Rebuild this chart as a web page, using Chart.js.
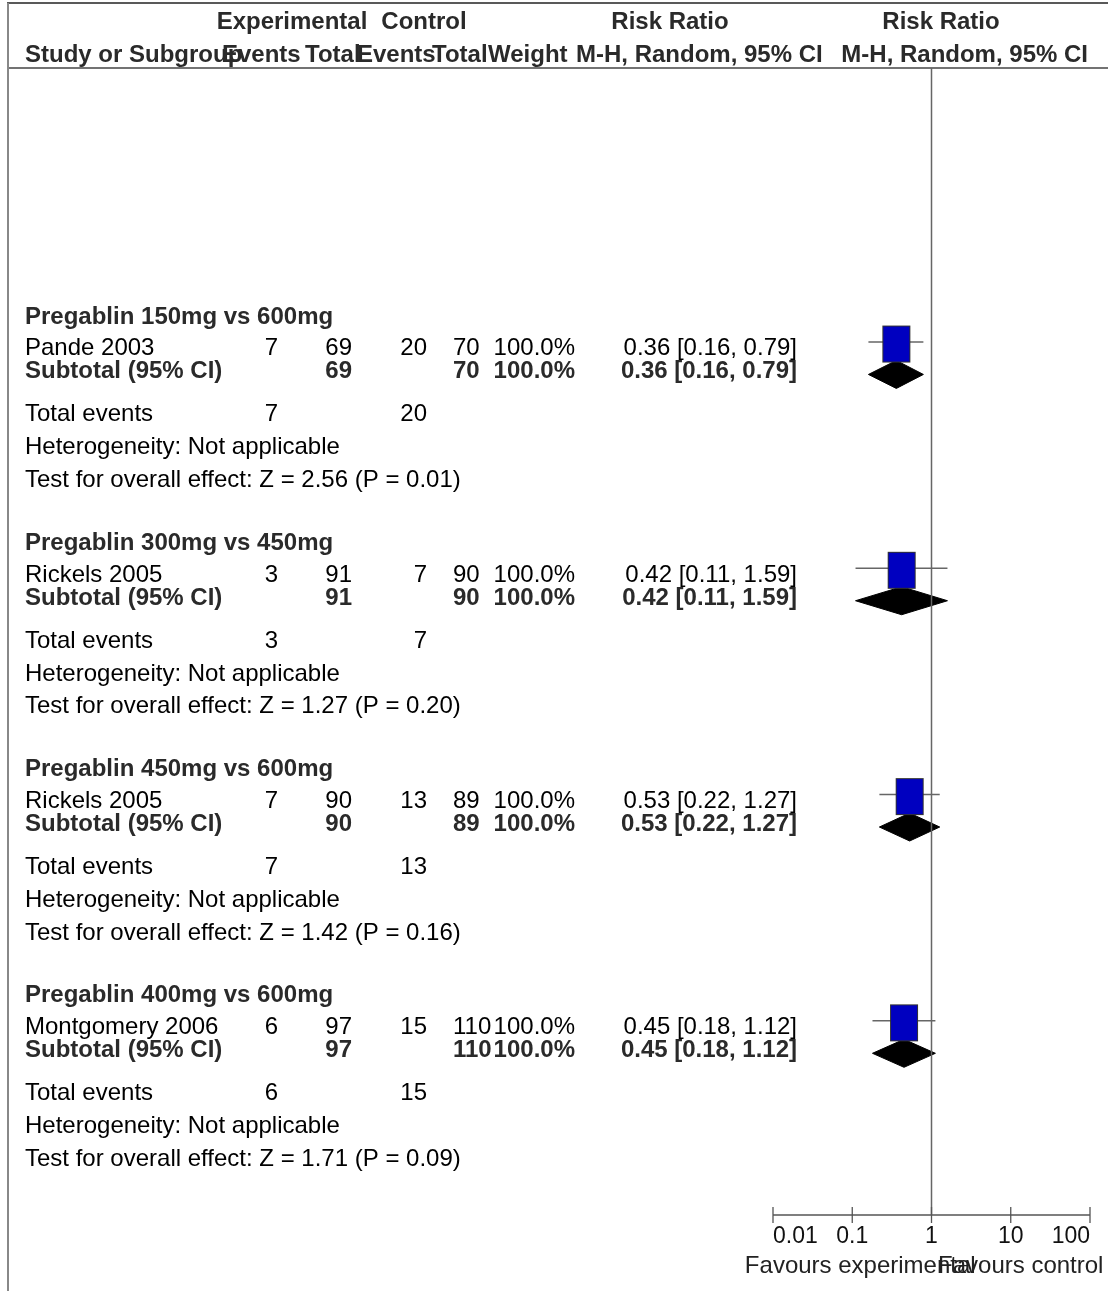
<!DOCTYPE html>
<html><head><meta charset="utf-8">
<script src="https://cdn.jsdelivr.net/npm/chart.js@4.4.0/dist/chart.umd.min.js"></script>
<style>html,body{margin:0;padding:0;background:#fff;}#wrap{width:1108px;height:1291px;position:relative;}canvas{display:block;}</style>
</head><body><div id="wrap"><canvas id="c" width="1108" height="1291"></canvas></div>
<script>
// ---------- data ----------
const subgroups = ["Pregablin 150mg vs 600mg", "Pregablin 300mg vs 450mg", "Pregablin 450mg vs 600mg", "Pregablin 400mg vs 600mg"];
const studies = ["Pande 2003", "Rickels 2005", "Rickels 2005", "Montgomery 2006"];
const expEvents = [7, 3, 7, 6];
const expTotal = [69, 91, 90, 97];
const ctrlEvents = [20, 7, 13, 15];
const ctrlTotal = [70, 90, 89, 110];
const weights = ["100.0%", "100.0%", "100.0%", "100.0%"];
const rr = [0.36, 0.42, 0.53, 0.45];
const rrLow = [0.16, 0.11, 0.22, 0.18];
const rrHigh = [0.79, 1.59, 1.27, 1.12];
const heterogeneity = ["Not applicable", "Not applicable", "Not applicable", "Not applicable"];
const zValues = ["2.56", "1.27", "1.42", "1.71"];
const pValues = ["0.01", "0.20", "0.16", "0.09"];
const xTicks = [0.01, 0.1, 1, 10, 100];
const xTickLabels = ["0.01", "0.1", "1", "10", "100"];

// ---------- layout (row units) ----------
const Y_MAX = 35;
const firstRow = 8.361, groupStep = 6.905;
const OFF = {heading: -0.82, studyText: 0.15, subText: 0.85, total: 2.16, het: 3.17, test: 4.17, square: 0.061, diamond: 0.99, diamondHalf: 0.427};
const studyRow = studies.map((s, g) => firstRow + g * groupStep);

const FONT = "'Liberation Sans', Arial, sans-serif";
const FS = 24;

function fmt(v) { return v.toFixed(2); }

// square marker
const sq = document.createElement('canvas');
sq.width = 30; sq.height = 39;
{
  const g = sq.getContext('2d');
  g.fillStyle = '#0000c0'; g.fillRect(1, 1, 28, 37);
  g.strokeStyle = '#333'; g.lineWidth = 1; g.strokeRect(1.5, 1.5, 27, 36);
}

const datasets = [];
datasets.push({
  type: 'scatter',
  data: rr.map((v, i) => ({x: v, y: studyRow[i] + OFF.square})),
  pointStyle: sq, pointRadius: 5, pointHoverRadius: 5
});
rr.forEach((v, i) => {
  const yc = studyRow[i] + OFF.diamond;
  datasets.push({
    type: 'line',
    data: [{x: rrLow[i], y: yc}, {x: v, y: yc - OFF.diamondHalf}, {x: rrHigh[i], y: yc}, {x: v, y: yc + OFF.diamondHalf}, {x: rrLow[i], y: yc}],
    borderColor: '#000', backgroundColor: '#000', borderWidth: 1, fill: 'shape', pointRadius: 0, tension: 0
  });
});
rr.forEach((v, i) => {
  datasets.push({
    type: 'line',
    data: [{x: rrLow[i], y: studyRow[i]}, {x: rrHigh[i], y: studyRow[i]}],
    borderColor: '#666', borderWidth: 1.5, fill: false, pointRadius: 0
  });
});

const forestPlugin = {
  id: 'forest',
  afterDraw(chart) {
    const ctx = chart.ctx;
    const xs = chart.scales.x, ys = chart.scales.y;
    const ca = chart.chartArea;
    const py = v => ys.getPixelForValue(v);
    ctx.save();
    ctx.strokeStyle = '#222'; ctx.lineWidth = 1.5;
    ctx.beginPath(); ctx.moveTo(7, 3); ctx.lineTo(1108, 3); ctx.stroke();
    ctx.strokeStyle = '#444'; ctx.lineWidth = 1.5;
    ctx.beginPath(); ctx.moveTo(7, ca.top); ctx.lineTo(1108, ca.top); ctx.stroke();
    ctx.strokeStyle = '#888'; ctx.lineWidth = 2;
    ctx.beginPath(); ctx.moveTo(8, 3); ctx.lineTo(8, 1291); ctx.stroke();
    const x1 = xs.getPixelForValue(1);
    ctx.strokeStyle = '#666'; ctx.lineWidth = 1.5;
    ctx.beginPath(); ctx.moveTo(x1, ca.top); ctx.lineTo(x1, ca.bottom); ctx.stroke();
    ctx.strokeStyle = '#555'; ctx.lineWidth = 1.3;
    ctx.beginPath();
    ctx.moveTo(xs.getPixelForValue(xTicks[0]), ca.bottom);
    ctx.lineTo(xs.getPixelForValue(xTicks[xTicks.length - 1]), ca.bottom);
    xTicks.forEach(t => { const px = xs.getPixelForValue(t); ctx.moveTo(px, ca.bottom - 8); ctx.lineTo(px, ca.bottom + 8); });
    ctx.stroke();

    const text = (s, x, yc, align, bold, color) => {
      ctx.font = (bold ? 'bold ' : '') + FS + 'px ' + FONT;
      ctx.fillStyle = color || (bold ? '#2a2a2a' : '#000');
      ctx.textAlign = align; ctx.textBaseline = 'alphabetic';
      ctx.fillText(s, x, yc + 8.5);
    };
    text('Experimental', 292, 20, 'center', true);
    text('Control', 424, 20, 'center', true);
    text('Risk Ratio', 670, 20, 'center', true);
    text('Risk Ratio', 941, 20, 'center', true);
    text('Study or Subgroup', 25, 53, 'left', true);
    text('Events', 222, 53, 'left', true);
    text('Total', 305, 53, 'left', true);
    text('Events', 357, 53, 'left', true);
    text('Total', 432, 53, 'left', true);
    text('Weight', 488, 53, 'left', true);
    text('M-H, Random, 95% CI', 576, 53, 'left', true);
    text('M-H, Random, 95% CI', 1088, 53, 'right', true);

    studies.forEach((s, g) => {
      const r = studyRow[g];
      text(subgroups[g], 25, py(r + OFF.heading), 'left', true);
      const ys1 = py(r + OFF.studyText);
      text(s, 25, ys1, 'left', false);
      text(String(expEvents[g]), 278, ys1, 'right');
      text(String(expTotal[g]), 352, ys1, 'right');
      text(String(ctrlEvents[g]), 427, ys1, 'right');
      text(String(ctrlTotal[g]), 453, ys1, 'left');
      text(weights[g], 575, ys1, 'right');
      text(fmt(rr[g]) + ' [' + fmt(rrLow[g]) + ', ' + fmt(rrHigh[g]) + ']', 797, ys1, 'right');
      const ys2 = py(r + OFF.subText);
      text('Subtotal (95% CI)', 25, ys2, 'left', true);
      text(String(expTotal[g]), 352, ys2, 'right', true);
      text(String(ctrlTotal[g]), 453, ys2, 'left', true);
      text(weights[g], 575, ys2, 'right', true);
      text(fmt(rr[g]) + ' [' + fmt(rrLow[g]) + ', ' + fmt(rrHigh[g]) + ']', 797, ys2, 'right', true);
      const ys3 = py(r + OFF.total);
      text('Total events', 25, ys3, 'left');
      text(String(expEvents[g]), 278, ys3, 'right');
      text(String(ctrlEvents[g]), 427, ys3, 'right');
      text('Heterogeneity: ' + heterogeneity[g], 25, py(r + OFF.het), 'left');
      text('Test for overall effect: Z = ' + zValues[g] + ' (P = ' + pValues[g] + ')', 25, py(r + OFF.test), 'left');
    });
    const left = xs.getPixelForValue(xTicks[0]), right = xs.getPixelForValue(xTicks[xTicks.length - 1]);
    text('Favours experimental', (left + x1) / 2 + 8, 1264, 'center', false, '#222');
    text('Favours control', (x1 + right) / 2 + 10, 1264, 'center', false, '#222');
    ctx.restore();
  }
};

new Chart(document.getElementById('c'), {
  type: 'scatter',
  data: {datasets},
  options: {
    responsive: false, animation: false, events: [],
    layout: {padding: {left: 773, right: 18, top: 68, bottom: 0}},
    plugins: {legend: {display: false}, tooltip: {enabled: false}},
    scales: {
      x: {
        type: 'logarithmic', min: 0.01, max: 100,
        grid: {display: false, drawTicks: false}, border: {display: false},
        afterBuildTicks: s => { s.ticks = xTicks.map(v => ({value: v, major: false})); },
        afterFit: s => { s.height = 76; s.paddingLeft = 0; s.paddingRight = 0; },
        ticks: {
          callback: (v, i) => xTickLabels[i], autoSkip: false, maxRotation: 0, minRotation: 0, align: 'inner',
          color: '#111', padding: 8, font: {family: FONT, size: 23}
        }
      },
      y: {type: 'linear', min: 0, max: Y_MAX, reverse: true, display: false}
    }
  },
  plugins: [forestPlugin]
});
</script></body></html>
